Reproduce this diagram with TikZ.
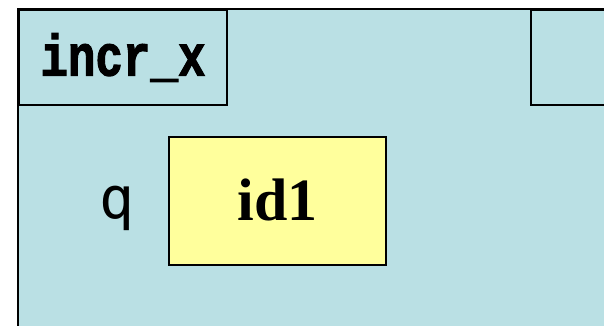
\documentclass[tikz,border=0pt]{standalone}
\usepackage{fontspec}
\setmainfont{Liberation Serif}
\newfontfamily\codefont[BoldFeatures={FakeBold=2}]{Liberation Mono}
\newfontfamily\qfont{DejaVu Sans Mono}
\usetikzlibrary{positioning}
\definecolor{framebg}{HTML}{BAE0E4}
\definecolor{valbg}{HTML}{FFFF9C}
\tikzset{
  namebox/.style={draw,line width=2pt,rectangle,anchor=north west,
    minimum width=208pt,minimum height=95pt,inner sep=0pt},
  valbox/.style={draw,line width=2pt,rectangle,fill=valbg,
    minimum width=217pt,minimum height=128pt,inner sep=0pt}
}
\begin{document}
\begin{tikzpicture}[x=1pt,y=-1pt]
  \useasboundingbox (0,0) rectangle (604,326);
  \clip (0,0) rectangle (604,326);
  % call frame
  \draw[line width=2pt,fill=framebg] (18,9) rectangle (640,360);
  \node[namebox] (fname) at (18,9)
    {\scalebox{1.02}[1.3]{\codefont\bfseries\fontsize{45}{45}\selectfont incr\_x}};
  \node[namebox,minimum width=100pt] (fright) at (530,9) {};
  % variable q
  \node (qval) [valbox] at (277.5,201)
    {\raisebox{2pt}{\bfseries\fontsize{60}{60}\selectfont id1}};
  \node (qname) [left=30pt of qval,yshift=-7pt] {\qfont\fontsize{58}{58}\selectfont q};
\end{tikzpicture}
\end{document}
